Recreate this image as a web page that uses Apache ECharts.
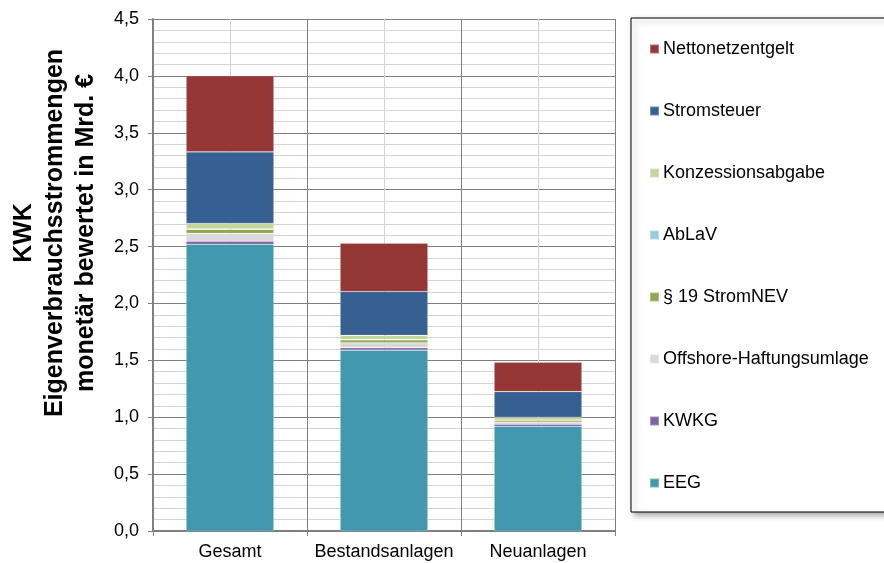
<!DOCTYPE html>
<html>
<head>
<meta charset="utf-8">
<script src="https://cdn.jsdelivr.net/npm/echarts@6/dist/echarts.min.js"></script>
<style>
  html, body { margin: 0; padding: 0; background: #fff; }
  #chart { width: 884px; height: 563px; }
</style>
</head>
<body>
<div id="chart"></div>
<script>
// Categories on the x axis
var categories = ['Gesamt', 'Bestandsanlagen', 'Neuanlagen'];

// Stacked components (Mrd. €), bottom to top
var eeg          = [2.52, 1.59, 0.92];
var kwkg         = [0.026, 0.02, 0.018];
var offshore     = [0.07, 0.044, 0.02];
var stromNEV     = [0.035, 0.026, 0.015];
var ablav        = [0.005, 0.004, 0.003];
var konzession   = [0.047, 0.035, 0.024];
var stromsteuer  = [0.629, 0.386, 0.225];
var netzentgelt  = [0.669, 0.425, 0.258];

// Value axis ticks
var yTicks = [0, 0.5, 1, 1.5, 2, 2.5, 3, 3.5, 4, 4.5];

var seriesDefs = [
  { name: 'EEG', data: eeg, color: '#4198AF' },
  { name: 'KWKG', data: kwkg, color: '#7E62A1' },
  { name: 'Offshore-Haftungsumlage', data: offshore, color: '#D9D9D9' },
  { name: '§ 19 StromNEV', data: stromNEV, color: '#8EA84B' },
  { name: 'AbLaV', data: ablav, color: '#93CDDD' },
  { name: 'Konzessionsabgabe', data: konzession, color: '#C3D69B' },
  { name: 'Stromsteuer', data: stromsteuer, color: '#376092' },
  { name: 'Nettonetzentgelt', data: netzentgelt, color: '#953735' }
];

var font = 'Liberation Sans, Arial, sans-serif';
var chart = echarts.init(document.getElementById('chart'), null, { renderer: 'canvas' });

chart.setOption({
  animation: false,
  backgroundColor: '#ffffff',
  grid: { left: 153, right: 269, top: 19, bottom: 32, containLabel: false },
  legend: {
    orient: 'vertical',
    left: 631,
    top: 18,
    data: seriesDefs.map(function (s) { return s.name; }).reverse(),
    icon: 'rect',
    itemWidth: 9,
    itemHeight: 9,
    itemGap: 44,
    padding: [22, 60, 20, 18],
    borderColor: '#000000',
    borderWidth: 1,
    backgroundColor: '#ffffff',
    shadowBlur: 6,
    shadowColor: 'rgba(0,0,0,0.35)',
    shadowOffsetX: 3,
    shadowOffsetY: 3,
    selectedMode: false,
    textStyle: { fontFamily: font, fontSize: 18, color: '#000000', padding: [0, 0, 0, -1] }
  },
  graphic: [{
    type: 'text',
    x: 55,
    y: 233,
    rotation: Math.PI / 2,
    style: {
      text: 'KWK\nEigenverbrauchsstrommengen\nmonetär bewertet in Mrd. €',
      x: 0,
      y: 0,
      align: 'center',
      verticalAlign: 'middle',
      fontFamily: font,
      fontWeight: 'bold',
      fontSize: 25,
      lineHeight: 31,
      fill: '#000000'
    }
  }],
  xAxis: [{
    type: 'category',
    data: categories,
    axisLine: { show: true, lineStyle: { color: '#7f7f7f', width: 2 } },
    axisTick: { show: true, length: 5, lineStyle: { color: '#7f7f7f', width: 1 } },
    axisLabel: { interval: 0, hideOverlap: false, margin: 12, fontFamily: font, fontSize: 18, color: '#000000' },
    splitLine: { show: false }
  }, {
    // helper axis for vertical gridlines: dark at category boundaries, light at centers
    type: 'value',
    min: 0,
    max: 3,
    interval: 0.5,
    position: 'bottom',
    axisLine: { show: false },
    axisTick: { show: false },
    axisLabel: { show: false },
    splitLine: { show: true, lineStyle: { color: ['#7f7f7f', '#d4d4d4'], width: 1 } }
  }],
  yAxis: {
    type: 'value',
    min: 0,
    max: 4.5,
    interval: 0.5,
    axisLine: { show: true, lineStyle: { color: '#7f7f7f', width: 2 } },
    axisTick: { show: true, length: 5, lineStyle: { color: '#7f7f7f', width: 1 } },
    axisLabel: {
      margin: 14,
      fontFamily: font,
      fontSize: 18,
      color: '#000000',
      formatter: function (v) { return v.toFixed(1).replace('.', ','); }
    },
    splitLine: { show: true, lineStyle: { color: '#7f7f7f', width: 1 } },
    minorTick: { show: false, splitNumber: 5 },
    minorSplitLine: { show: true, lineStyle: { color: '#d4d4d4', width: 1 } }
  },
  series: seriesDefs.map(function (s) {
    return {
      name: s.name,
      type: 'bar',
      stack: 'total',
      xAxisIndex: 0,
      barCategoryGap: '43%',
      data: s.data,
      itemStyle: { color: s.color, borderColor: 'rgba(255,255,255,0.3)', borderWidth: 0.6 }
    };
  })
});
</script>
</body>
</html>
